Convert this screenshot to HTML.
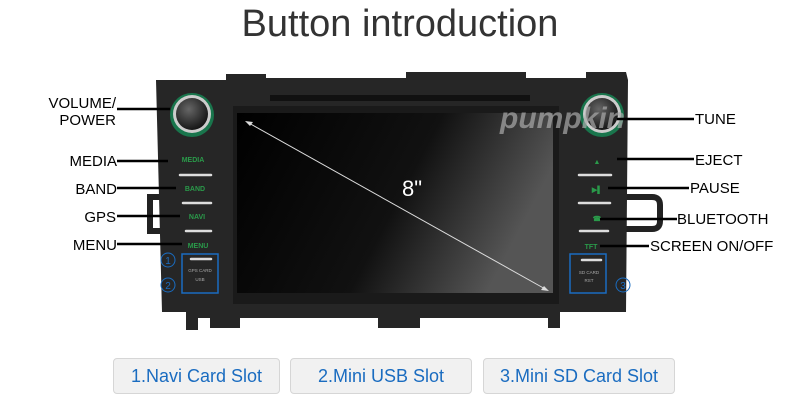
<!DOCTYPE html>
<html><head><meta charset="utf-8"><style>
body{margin:0;width:800px;height:405px;background:#fff;overflow:hidden;font-family:"Liberation Sans",sans-serif}
.b{position:absolute;top:358px;height:34px;border:1px solid #d6d6d6;border-radius:4px;background:#f1f1f1;color:#1a6cc0;font-size:18px;line-height:34px;text-align:center}
</style></head><body>
<svg width="800" height="405" style="position:absolute;left:0;top:0" font-family="Liberation Sans, sans-serif">
<defs>
<linearGradient id="scr" x1="0" y1="0" x2="1" y2="0.3"><stop offset="0" stop-color="#000"/><stop offset="0.6" stop-color="#111"/><stop offset="1" stop-color="#555"/></linearGradient>
<radialGradient id="kn" cx="0.4" cy="0.35" r="0.7"><stop offset="0" stop-color="#666"/><stop offset="1" stop-color="#111"/></radialGradient>
</defs>
<text x="400" y="36" font-size="38" text-anchor="middle" fill="#333">Button introduction</text>
<path d="M162 197 h-12 v34 h12" fill="none" stroke="#222" stroke-width="6"/>
<path d="M622 197 h30 q8 0 8 8 v16 q0 8 -8 8 h-30" fill="none" stroke="#222" stroke-width="6"/>
<path d="M156 80 L226 80 L226 74 L266 74 L266 78 L406 78 L406 72 L526 72 L526 78 L586 78 L586 72 L626 72 L628 80 Z" fill="#262626"/>
<path d="M156 80 L628 80 L626 312 L560 312 L560 328 L548 328 L548 318 L420 318 L420 328 L378 328 L378 318 L240 318 L240 328 L210 328 L210 318 L198 318 L198 330 L186 330 L186 312 L162 312 Z" fill="#262626"/>
<rect x="233" y="106" width="326" height="198" fill="#1a1a1a"/>
<rect x="237" y="113" width="316" height="180" fill="url(#scr)"/>
<rect x="270" y="95" width="260" height="6" fill="#111"/>
<circle cx="192" cy="115" r="22" fill="#1a6" opacity="0.6"/><circle cx="192" cy="114" r="19" fill="#ccc"/><circle cx="192" cy="114" r="16" fill="url(#kn)"/>
<circle cx="602" cy="115" r="22" fill="#1a6" opacity="0.6"/><circle cx="602" cy="114" r="19" fill="#ccc"/><circle cx="602" cy="114" r="16" fill="url(#kn)"/>
<text x="500" y="128" font-size="30" font-style="italic" font-weight="bold" fill="#aaa" opacity="0.7">pumpkin</text>
<g font-size="7" font-weight="bold" fill="#2a9a4a" text-anchor="middle">
<text x="193" y="162">MEDIA</text><text x="195" y="191">BAND</text><text x="197" y="219">NAVI</text><text x="198" y="248">MENU</text>
<text x="597" y="164">▲</text><text x="597" y="192">▶▌</text><text x="597" y="221">☎</text><text x="591" y="249">TFT</text>
</g>
<g stroke="#ddd" stroke-width="2.5" stroke-linecap="round">
<line x1="180" y1="175" x2="211" y2="175"/><line x1="183" y1="203" x2="211" y2="203"/><line x1="186" y1="231" x2="211" y2="231"/><line x1="191" y1="259" x2="211" y2="259"/>
<line x1="579" y1="175" x2="611" y2="175"/><line x1="579" y1="203" x2="610" y2="203"/><line x1="580" y1="231" x2="608" y2="231"/><line x1="582" y1="260" x2="601" y2="260"/>
</g>
<g font-size="4.5" fill="#aaa" text-anchor="middle"><text x="200" y="272">GPS CARD</text><text x="200" y="281">USB</text><text x="589" y="274">SD CARD</text><text x="589" y="282">RST</text></g>
<rect x="182" y="254" width="36" height="39" fill="none" stroke="#1a6cc0" stroke-width="1.5"/>
<rect x="570" y="254" width="36" height="39" fill="none" stroke="#1a6cc0" stroke-width="1.5"/>
<g fill="none" stroke="#1a6cc0"><circle cx="168" cy="260" r="7"/><circle cx="168" cy="285" r="7"/><circle cx="623" cy="285" r="7"/></g>
<g font-size="10" fill="#1a6cc0" text-anchor="middle"><text x="168" y="264">1</text><text x="168" y="289">2</text><text x="623" y="289">3</text></g>
<line x1="247" y1="122" x2="547" y2="290" stroke="#ddd" stroke-width="1"/>
<path d="M245 121 l8 1 l-3 4z M549 291 l-8 -1 l3 -4z" fill="#ddd"/>
<text x="412" y="196" font-size="22" fill="#fff" text-anchor="middle">8"</text>
<g stroke="#000" stroke-width="2.5">
<line x1="117" y1="109" x2="170" y2="109"/><line x1="117" y1="161" x2="168" y2="161"/><line x1="117" y1="188" x2="176" y2="188"/><line x1="117" y1="216" x2="180" y2="216"/><line x1="117" y1="244" x2="182" y2="244"/>
<line x1="617" y1="119" x2="694" y2="119"/><line x1="617" y1="159" x2="694" y2="159"/><line x1="608" y1="188" x2="689" y2="188"/><line x1="600" y1="219" x2="677" y2="219"/><line x1="600" y1="246" x2="649" y2="246"/>
</g>
<g font-size="15" fill="#000" text-anchor="end">
<text x="116" y="108">VOLUME/</text><text x="116" y="125">POWER</text><text x="117" y="166">MEDIA</text><text x="117" y="194">BAND</text><text x="116" y="222">GPS</text><text x="117" y="250">MENU</text>
</g>
<g font-size="15" fill="#000">
<text x="695" y="124">TUNE</text><text x="695" y="165">EJECT</text><text x="690" y="193">PAUSE</text><text x="677" y="224">BLUETOOTH</text><text x="650" y="251">SCREEN ON/OFF</text>
</g>
</svg>
<div class="b" style="left:113px;width:165px">1.Navi Card Slot</div>
<div class="b" style="left:290px;width:180px">2.Mini USB Slot</div>
<div class="b" style="left:483px;width:190px">3.Mini SD Card Slot</div>
</body></html>
